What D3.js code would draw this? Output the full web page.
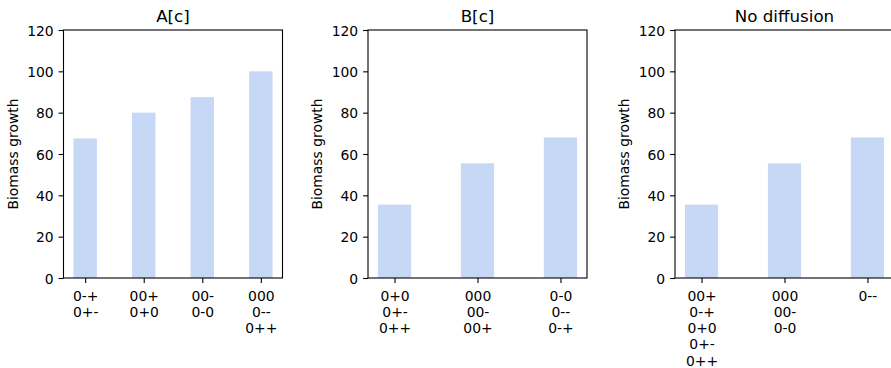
<!DOCTYPE html>
<html>
<head>
<meta charset="utf-8">
<script src="https://cdn.jsdelivr.net/npm/d3@7"></script>
<style>
  body { margin: 0; background: #fff; }
  svg text { font-family: "DejaVu Sans", sans-serif; fill: #000; }
</style>
</head>
<body>
<div id="chart"></div>
<script>
// Data
var panelTitles = ["A[c]", "B[c]", "No diffusion"]

var labelsA = [["0-+", "0+-"], ["00+", "0+0"], ["00-", "0-0"], ["000", "0--", "0++"]]
var valuesA = [67.5, 80, 87.5, 100]

var labelsB = [["0+0", "0+-", "0++"], ["000", "00-", "00+"], ["0-0", "0--", "0-+"]]
var valuesB = [35.5, 55.5, 68]

var labelsN = [["00+", "0-+", "0+0", "0+-", "0++"], ["000", "00-", "0-0"], ["0--"]]
var valuesN = [35.5, 55.5, 68]

var yTicks = [0, 20, 40, 60, 80, 100, 120]
var yLabel = "Biomass growth"

var width = 891
var height = 368
var margin = { top: 30, bottom: 90 }
var axLefts = [63.5, 368, 675]
var axWidth = 219
var barWidth = 0.4
var barColor = '#c6d8f5'

var svg = d3.select("#chart")
  .append("svg")
  .attr("width", width)
  .attr("height", height)

var yScale = d3.scaleLinear()
  .domain([0, 120])
  .range([height - margin.bottom, margin.top])

var panels = [
  { title: panelTitles[0], labels: labelsA, values: valuesA },
  { title: panelTitles[1], labels: labelsB, values: valuesB },
  { title: panelTitles[2], labels: labelsN, values: valuesN }
]

panels.forEach(function(p, i) {
  var left = axLefts[i]
  var n = p.values.length
  // matplotlib-like 5% margins around bars
  var lo = -barWidth / 2, hi = n - 1 + barWidth / 2
  var pad = (hi - lo) * 0.05
  var xScale = d3.scaleLinear()
    .domain([lo - pad, hi + pad])
    .range([left, left + axWidth])

  var g = svg.append("g").attr("class", "panel-" + i)

  // bars
  g.selectAll("rect.bar")
    .data(p.values)
    .enter()
    .append("rect")
    .attr("class", "bar")
    .attr("x", (d, j) => xScale(j - barWidth / 2))
    .attr("width", (d, j) => xScale(j + barWidth / 2) - xScale(j - barWidth / 2))
    .attr("y", d => yScale(d))
    .attr("height", d => yScale(0) - yScale(d))
    .style("fill", barColor)

  // frame
  g.append("rect")
    .attr("x", left)
    .attr("y", margin.top)
    .attr("width", axWidth)
    .attr("height", yScale(0) - margin.top)
    .style("fill", "none")
    .style("stroke", "black")
    .style("stroke-width", 1.1)

  // y axis
  var yAxis = d3.axisLeft(yScale)
    .tickValues(yTicks)
    .tickSize(4.9)
    .tickPadding(4.9)
  var ya = g.append("g")
    .attr("transform", `translate(${left},0)`)
    .call(yAxis)
  ya.select(".domain").remove()
  ya.selectAll("line").style("stroke", "black").style("stroke-width", 1.1)
  ya.selectAll("text")
    .style("font-size", "13.9px")
    .style("font-family", "DejaVu Sans")
    .attr("dy", "0.36em")

  // x axis with multi-line labels
  var xAxis = d3.axisBottom(xScale)
    .tickValues(d3.range(n))
    .tickSize(4.9)
    .tickPadding(4.9)
    .tickFormat("")
  var xa = g.append("g")
    .attr("transform", `translate(0,${yScale(0)})`)
    .call(xAxis)
  xa.select(".domain").remove()
  xa.selectAll("line").style("stroke", "black").style("stroke-width", 1.1)
  xa.selectAll(".tick text")
    .style("font-size", "13.9px")
    .style("font-family", "DejaVu Sans")
    .attr("y", 0)
    .attr("dy", null)
    .each(function(d) {
      var t = d3.select(this)
      p.labels[d].forEach(function(line, k) {
        t.append("tspan")
          .attr("x", 0)
          .attr("y", 22.5 + k * 16.3)
          .text(line)
      })
    })

  // title
  g.append("text")
    .attr("x", left + axWidth / 2)
    .attr("y", 21.5)
    .attr("text-anchor", "middle")
    .style("font-size", "16.7px")
    .text(p.title)

  // y label
  g.append("text")
    .attr("transform", `translate(${left - 46},${(yScale(0) + margin.top) / 2}) rotate(-90)`)
    .attr("text-anchor", "middle")
    .style("font-size", "13.9px")
    .text(yLabel)
})
</script>
</body>
</html>
